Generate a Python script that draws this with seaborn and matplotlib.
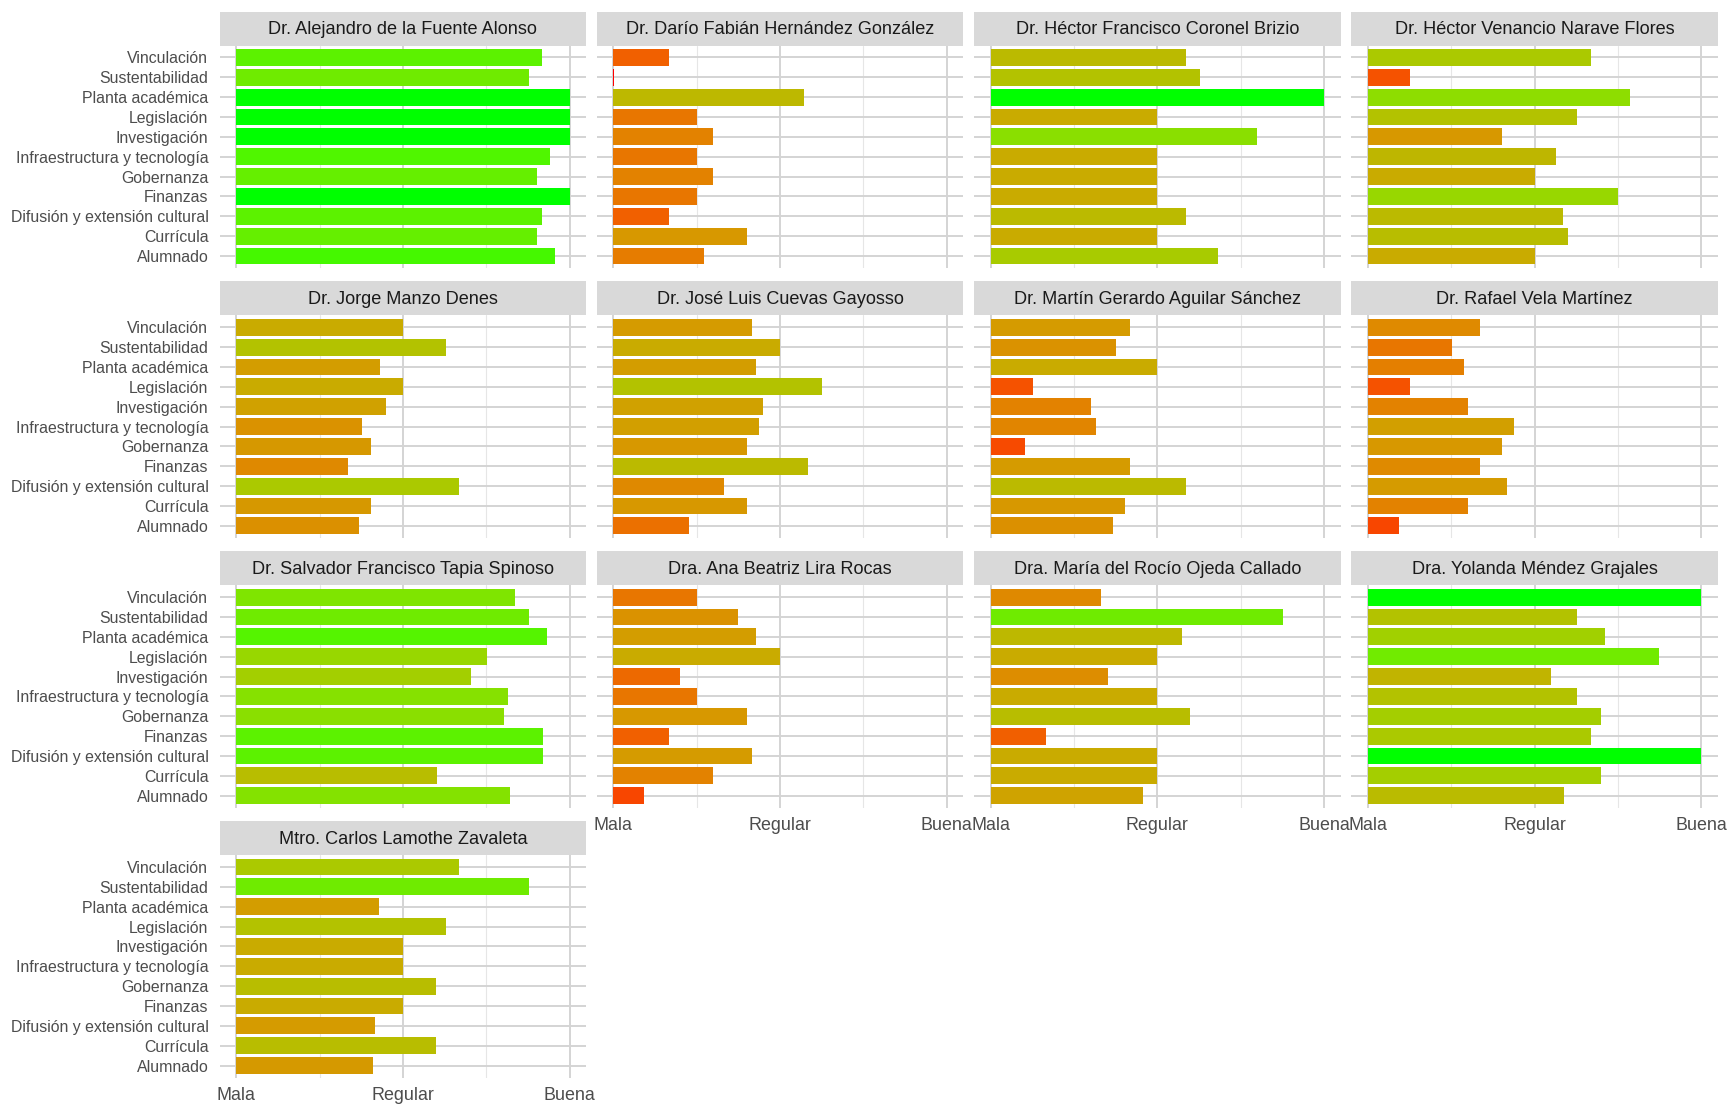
import numpy as np
import pandas as pd
import matplotlib
matplotlib.use("Agg")
import matplotlib.pyplot as plt
from matplotlib.patches import Rectangle
import seaborn as sns

# ---------------- data ----------------
dimensiones = ["Vinculación", "Sustentabilidad", "Planta académica", "Legislación",
               "Investigación", "Infraestructura y tecnología", "Gobernanza", "Finanzas",
               "Difusión y extensión cultural", "Currícula", "Alumnado"]

candidatos = ["Dr. Alejandro de la Fuente Alonso", "Dr. Darío Fabián Hernández González",
              "Dr. Héctor Francisco Coronel Brizio", "Dr. Héctor Venancio Narave Flores",
              "Dr. Jorge Manzo Denes", "Dr. José Luis Cuevas Gayosso",
              "Dr. Martín Gerardo Aguilar Sánchez", "Dr. Rafael Vela Martínez",
              "Dr. Salvador Francisco Tapia Spinoso", "Dra. Ana Beatriz Lira Rocas",
              "Dra. María del Rocío Ojeda Callado", "Dra. Yolanda Méndez Grajales",
              "Mtro. Carlos Lamothe Zavaleta"]

# values in order of `dimensiones`; 0 = Mala, 0.5 = Regular, 1 = Buena
alejandro = [0.918, 0.877, 1.0, 1.0, 1.0, 0.940, 0.901, 1.0, 0.918, 0.901, 0.955]
dario     = [0.168, 0.003, 0.572, 0.251, 0.300, 0.251, 0.300, 0.251, 0.168, 0.402, 0.273]
coronel   = [0.586, 0.628, 1.0, 0.500, 0.800, 0.500, 0.500, 0.500, 0.586, 0.500, 0.682]
narave    = [0.669, 0.126, 0.786, 0.627, 0.402, 0.564, 0.501, 0.750, 0.585, 0.600, 0.500]
manzo     = [0.501, 0.628, 0.430, 0.500, 0.450, 0.376, 0.403, 0.334, 0.667, 0.403, 0.367]
cuevas    = [0.417, 0.501, 0.429, 0.627, 0.450, 0.438, 0.402, 0.585, 0.333, 0.402, 0.228]
aguilar   = [0.417, 0.375, 0.500, 0.126, 0.300, 0.315, 0.102, 0.417, 0.585, 0.402, 0.366]
vela      = [0.336, 0.252, 0.288, 0.126, 0.300, 0.438, 0.402, 0.336, 0.417, 0.300, 0.093]
tapia     = [0.835, 0.877, 0.931, 0.751, 0.703, 0.814, 0.802, 0.919, 0.919, 0.601, 0.820]
lira      = [0.252, 0.375, 0.429, 0.501, 0.201, 0.252, 0.402, 0.168, 0.417, 0.300, 0.093]
ojeda     = [0.331, 0.877, 0.573, 0.500, 0.351, 0.500, 0.599, 0.166, 0.500, 0.500, 0.457]
mendez    = [1.0, 0.626, 0.712, 0.874, 0.550, 0.626, 0.699, 0.669, 1.0, 0.699, 0.589]
lamothe   = [0.667, 0.877, 0.429, 0.628, 0.501, 0.501, 0.600, 0.500, 0.417, 0.600, 0.411]

valores = [alejandro, dario, coronel, narave, manzo, cuevas, aguilar, vela,
           tapia, lira, ojeda, mendez, lamothe]

xticks = [0, 0.5, 1]
xticklabels = ["Mala", "Regular", "Buena"]

rows = []
for c, vals in zip(candidatos, valores):
    for d, v in zip(dimensiones, vals):
        rows.append({"candidato": c, "dimension": d, "valor": v})
df = pd.DataFrame(rows)

# ---------------- colour scale (Lab interpolation red -> green) ----------------
def srgb_to_lab(rgb):
    rgb = np.asarray(rgb, float)
    lin = np.where(rgb <= 0.04045, rgb / 12.92, ((rgb + 0.055) / 1.055) ** 2.4)
    M = np.array([[0.4124, 0.3576, 0.1805], [0.2126, 0.7152, 0.0722], [0.0193, 0.1192, 0.9505]])
    xyz = M @ lin
    wp = np.array([0.95047, 1.0, 1.08883])
    t = xyz / wp
    f = np.where(t > (6 / 29) ** 3, np.cbrt(t), t / (3 * (6 / 29) ** 2) + 4 / 29)
    return np.array([116 * f[1] - 16, 500 * (f[0] - f[1]), 200 * (f[1] - f[2])])

def lab_to_srgb(lab):
    L, a, b = lab
    fy = (L + 16) / 116
    fx = fy + a / 500
    fz = fy - b / 200
    f = np.array([fx, fy, fz])
    d = 6 / 29
    t = np.where(f > d, f ** 3, 3 * d * d * (f - 4 / 29))
    xyz = t * np.array([0.95047, 1.0, 1.08883])
    Minv = np.array([[3.2406, -1.5372, -0.4986], [-0.9689, 1.8758, 0.0415], [0.0557, -0.2040, 1.0570]])
    lin = np.clip(Minv @ xyz, 0, 1)
    rgb = np.where(lin <= 0.0031308, 12.92 * lin, 1.055 * lin ** (1 / 2.4) - 0.055)
    return tuple(np.clip(rgb, 0, 1))

lab_lo = srgb_to_lab([1, 0, 0])
lab_hi = srgb_to_lab([0, 1, 0])
vmin, vmax = df["valor"].min(), df["valor"].max()

def fill_color(v):
    t = (v - vmin) / (vmax - vmin)
    return lab_to_srgb(lab_lo + (lab_hi - lab_lo) * t)

df["color"] = [fill_color(v) for v in df["valor"]]

# ---------------- plotting ----------------
sns.set_theme(style="white")
plt.rcParams["font.family"] = ["Liberation Sans", "DejaVu Sans"]

W, H = 1730, 1107
g = sns.FacetGrid(df, col="candidato", col_order=candidatos, col_wrap=4,
                  sharex=True, sharey=True, height=2.5, aspect=1.6, despine=False)

def draw(data, **kw):
    ax = plt.gca()
    pal = dict(zip(data["dimension"], data["color"]))
    sns.barplot(data=data, x="valor", y="dimension", hue="dimension", order=dimensiones,
                hue_order=dimensiones, palette=pal, legend=False, width=0.85,
                saturation=1, errorbar=None, orient="h", ax=ax, linewidth=0)

g.map_dataframe(draw)
g.set_titles("")
g.set_axis_labels("", "")

fig = g.figure
fig.set_size_inches(W / 100, H / 100)
fig.set_dpi(100)

left, right = 219.5 / W, 1718 / W
top, bottom = 1 - 45.5 / H, 1 - 1077.5 / H
fig.subplots_adjust(left=left, right=right, top=top, bottom=bottom,
                    wspace=10.5 / 366.5, hspace=47.5 / 222.5)

n = len(candidatos)
ncol = 4
strip_px = 34
for i, (ax, name) in enumerate(zip(g.axes.flat, candidatos)):
    ax.set_facecolor("white")
    for s in ax.spines.values():
        s.set_visible(False)
    ax.set_xlim(-0.05, 1.05)
    ax.set_ylim(len(dimensiones) - 0.4, -0.6)
    ax.set_xticks(xticks)
    ax.set_xticks([0.25, 0.75], minor=True)
    ax.set_yticks(range(len(dimensiones)))
    ax.set_axisbelow(True)
    ax.grid(which="major", axis="both", color="#D4D4D4", linewidth=1.4)
    ax.grid(which="minor", axis="x", color="#E6E6E6", linewidth=0.8)
    ax.set_xlabel("")
    ax.set_ylabel("")
    is_left = (i % ncol == 0)
    is_bottom = (i + ncol >= n)
    ax.tick_params(axis="x", which="minor", length=0)
    ax.tick_params(axis="x", which="major", length=4 if is_bottom else 0, width=1.2,
                   color="#D4D4D4", labelcolor="#4D4D4D", labelsize=12.9, pad=3,
                   labelbottom=is_bottom)
    ax.tick_params(axis="y", which="major", length=4 if is_left else 0, width=1.2,
                   color="#D4D4D4", labelcolor="#4D4D4D", labelsize=11.4, pad=4,
                   labelleft=is_left)
    if is_bottom:
        ax.set_xticklabels(xticklabels)
    if is_left:
        ax.set_yticklabels(dimensiones)
    # strip
    bbox = ax.get_position()
    ax_h_px = bbox.height * H
    h_frac = strip_px / ax_h_px
    ax.add_patch(Rectangle((0, 1), 1, h_frac, transform=ax.transAxes, clip_on=False,
                           facecolor="#D9D9D9", edgecolor="none", zorder=3))
    ax.text(0.5, 1 + h_frac / 2 - 1.5 / ax_h_px, name, transform=ax.transAxes,
            ha="center", va="center", fontsize=13.1, color="#1A1A1A", zorder=4)

fig.savefig("out.png", dpi=100, facecolor="white")
